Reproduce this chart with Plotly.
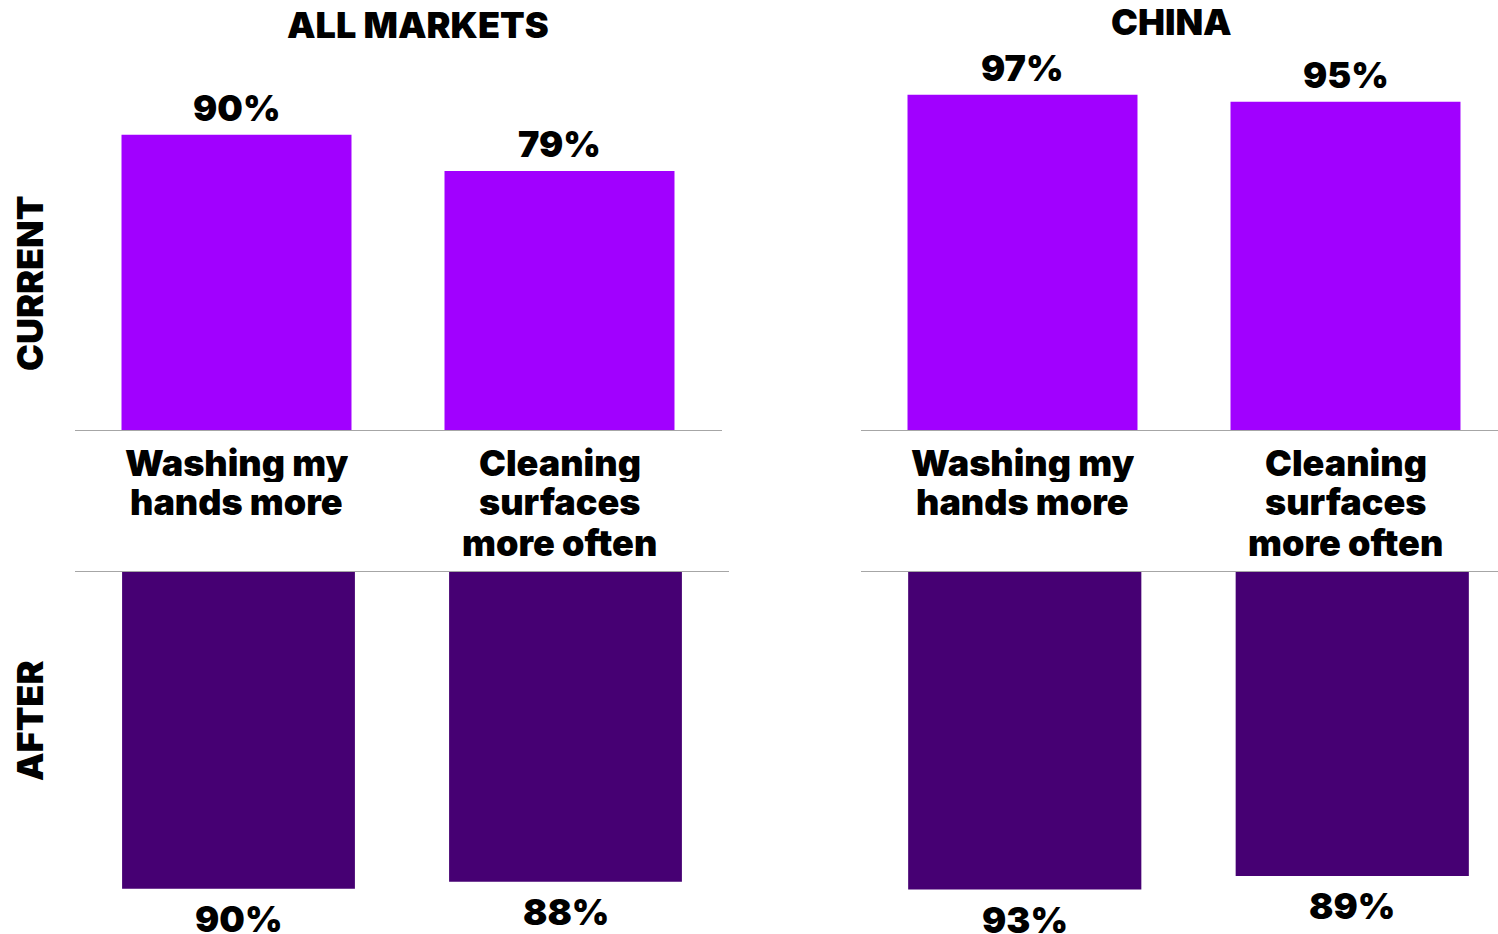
import plotly.graph_objects as go

# Survey results: share of respondents doing each hygiene behaviour
behaviours = ["Washing my<br>hands more", "Cleaning<br>surfaces<br>more often"]
all_markets_current = [90, 79]
all_markets_after = [90, 88]
china_current = [97, 95]
china_after = [93, 89]

W, H = 1498, 934
CURRENT_COLOR = "#A100FF"
AFTER_COLOR = "#460073"
FONT = "Inter"
TEXT_SIZE = 36
WEIGHT = 900

fig = go.Figure()

def px_x(a, b):
    return [a / W, b / W]

def px_y(top, bottom):
    return [(H - bottom) / H, (H - top) / H]

panels = [
    # (axis suffix, values, colour, x-domain px, y-domain px, y-range, x-range, upper row)
    ("", all_markets_current, CURRENT_COLOR, (75, 722), (0, 430), [0, 430 / 3.28], [-0.5, -0.5 + 647 / 323], True),
    ("2", china_current, CURRENT_COLOR, (861, 1498), (0, 430), [0, 430 / 3.455], [-0.5, -0.5 + 637 / 323], True),
    ("3", all_markets_after, AFTER_COLOR, (75, 729), (572, 934), [362 / 3.52, 0], [-0.5, -0.5 + 654 / 327], False),
    ("4", china_after, AFTER_COLOR, (861, 1498), (572, 934), [362 / 3.415, 0], [-0.5, -0.5 + 637 / 327.5], False),
]

text_font = dict(family=FONT, size=TEXT_SIZE, color="#000000", weight=WEIGHT)

for suffix, vals, color, xd, yd, yr, xr, upper in panels:
    xs = list(range(len(vals)))
    fig.add_trace(go.Bar(
        x=xs, y=vals,
        marker=dict(color=color, line=dict(width=0)),
        width=0.712,
        xaxis="x" + suffix, yaxis="y" + suffix,
        showlegend=False,
        hoverinfo="skip",
    ))
    # value labels just beyond the end of each bar
    for i, v in zip(xs, vals):
        fig.add_annotation(
            x=i, y=v, xref="x" + suffix, yref="y" + suffix,
            text=f"{v}%", showarrow=False, xanchor="center", yanchor="middle",
            yshift=27 if upper else -30, font=text_font,
        )
    fig.layout["xaxis" + suffix] = dict(
        domain=px_x(*xd), range=xr, anchor="y" + suffix,
        showticklabels=False, ticks="",
        showline=True, linecolor="#A6A6A6", linewidth=1,
        showgrid=False, zeroline=False, fixedrange=True,
        side="bottom" if upper else "top",
    )
    fig.layout["yaxis" + suffix] = dict(
        domain=px_y(*yd), range=yr, anchor="x" + suffix,
        showticklabels=False, showgrid=False, zeroline=False,
        showline=False, ticks="", fixedrange=True,
    )
    # category labels under the upper panels, one line at a time for tight leading
    if upper:
        line_y = [463, 502, 542]
        for i, label in enumerate(behaviours):
            for j, line in enumerate(label.split("<br>")):
                fig.add_annotation(
                    x=i, xref="x" + suffix, y=1 - line_y[j] / H, yref="paper",
                    text=line, showarrow=False, xanchor="center", yanchor="middle",
                    height=39, font=text_font,
                )

annotations = [
    dict(text="ALL MARKETS", x=418 / W, y=1 - 25 / H),
    dict(text="CHINA", x=1171 / W, y=1 - 22 / H),
    dict(text="CURRENT", x=30 / W, y=1 - 284 / H, textangle=-90),
    dict(text="AFTER", x=30 / W, y=1 - 721 / H, textangle=-90),
]
for a in annotations:
    fig.add_annotation(xref="paper", yref="paper", xanchor="center", yanchor="middle",
                       showarrow=False, font=text_font, **a)

fig.update_layout(
    width=W, height=H,
    margin=dict(l=0, r=0, t=0, b=0),
    paper_bgcolor="#FFFFFF", plot_bgcolor="#FFFFFF",
)

fig.write_html("out.html")
